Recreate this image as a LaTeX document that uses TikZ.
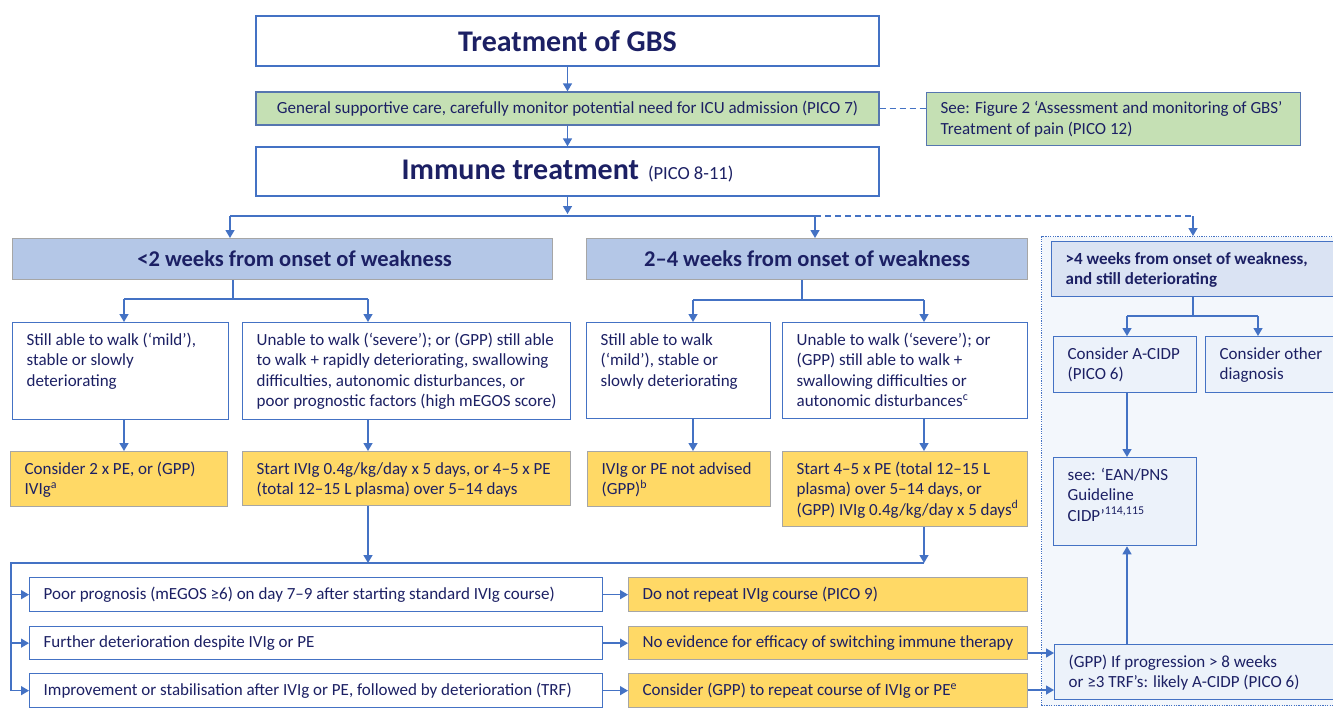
\documentclass[tikz,border=0pt]{standalone}
\usepackage{fontspec}
\setmainfont{Carlito}
\usetikzlibrary{arrows.meta}
\definecolor{navy}{RGB}{28,32,100}
\definecolor{bblue}{RGB}{68,114,196}
\definecolor{gfill}{RGB}{197,224,180}
\definecolor{hfill}{RGB}{180,199,231}
\definecolor{yfill}{RGB}{255,217,102}
\definecolor{gbord}{RGB}{166,166,166}
\definecolor{pbg}{RGB}{243,247,252}
\definecolor{pfill}{RGB}{236,242,250}
\definecolor{pfourfill}{RGB}{218,227,243}
\newcommand{\tb}[3]{\parbox[c][#1][t]{#2}{\raggedright\rule{0pt}{22.5pt}#3}}
\begin{document}
\begin{tikzpicture}[x=1pt,y=-1pt,
 base/.style={inner xsep=14pt, inner ysep=0pt, anchor=north west, font=\fontsize{17}{20.5}\selectfont, text=navy},
 wbox/.style={base, draw=bblue, line width=1.3pt, fill=white},
 ybox/.style={base, draw=gbord, line width=1.3pt, fill=yfill},
 hbox/.style={base, draw=gbord, line width=1.3pt, fill=hfill},
 gbox/.style={base, draw=bblue!70!gray, line width=1.3pt, fill=gfill},
 pbox/.style={base, draw=bblue, line width=1.3pt, fill=pfill},
 arr/.style={draw=bblue, line width=1.4pt, -{Triangle[width=9pt,length=8pt]}},
 ln/.style={draw=bblue, line width=1.4pt},
 dsh/.style={draw=bblue, line width=1.4pt, dash pattern=on 6pt off 4pt},
 big/.style={font=\fontsize{30}{34}\bfseries\selectfont},
 hdr/.style={font=\fontsize{22.5}{26}\bfseries\selectfont}]
\useasboundingbox (0,0) rectangle (1333,707);
\clip (0,0) rectangle (1333,707);
\fill[white] (0,0) rectangle (1333,707);

% right panel background
\node[draw=bblue, line width=1.2pt, dash pattern=on 1.2pt off 1.2pt, fill=pbg, anchor=north west, minimum width=320pt, minimum height=469pt, inner sep=0pt] (panel) at (1041,236) {};

% top
\node[wbox, big, anchor=center, minimum width=623pt, minimum height=50pt] (title) at (567.5,41) {Treatment of GBS};
\node[gbox, anchor=center, minimum width=623pt, minimum height=33pt] (care) at (567.5,108.5) {General supportive care, carefully monitor potential need for ICU admission (PICO 7)};
\node[gbox, minimum width=374pt] (side) at (926,92) {\parbox[c][53pt][t]{346pt}{\raggedright\rule{0pt}{21pt}See: Figure 2 ‘Assessment and monitoring of GBS’\\Treatment of pain (PICO 12)}};
\node[wbox, anchor=center, minimum width=623pt, minimum height=49pt] (imm) at (567.5,171.5) {{\fontsize{30}{34}\bfseries\selectfont Immune treatment}\hspace{9pt}{\fontsize{18.5}{20}\selectfont (PICO 8-11)}};

% headers
\node[hbox, hdr, minimum width=540pt, minimum height=41pt] (h1) at (12,238) {\hspace*{24pt}<2 weeks from onset of weakness};
\node[hbox, hdr, minimum width=441pt, minimum height=41pt] (h2) at (586,238) {2–4 weeks from onset of weakness};
\node[base, draw=bblue, line width=1.3pt, fill=pfourfill, minimum width=300pt] (h3) at (1051,241) {\parbox[c][55pt][t]{272pt}{\raggedright\fontsize{17}{20}\bfseries\selectfont\rule{0pt}{22.5pt}>4 weeks from onset of weakness,\\and still deteriorating}};

% condition boxes
\node[wbox] (s1) at (12,322) {\tb{97pt}{188pt}{Still able to walk (‘mild’),\\stable or slowly\\deteriorating}};
\node[wbox] (s2) at (242,322) {\tb{97pt}{300pt}{Unable to walk (‘severe’); or (GPP) still able\\to walk + rapidly deteriorating, swallowing\\difficulties, autonomic disturbances, or\\poor prognostic factors (high mEGOS score)}};
\node[wbox] (s3) at (586,322) {\tb{96pt}{156pt}{Still able to walk\\(‘mild’), stable or\\slowly deteriorating}};
\node[wbox] (s4) at (782,322) {\tb{96pt}{217pt}{Unable to walk (‘severe’); or\\(GPP) still able to walk +\\swallowing difficulties or\\autonomic disturbances\textsuperscript{c}}};

% treatment boxes
\node[ybox] (y1) at (10,451) {\tb{55pt}{189pt}{Consider 2 x PE, or (GPP)\\IVIg\textsuperscript{a}}};
\node[ybox] (y2) at (242,451) {\tb{54pt}{300pt}{Start IVIg 0.4g/kg/day x 5 days, or 4–5 x PE\\(total 12–15 L plasma) over 5–14 days}};
\node[ybox] (y3) at (587,451) {\tb{55pt}{155pt}{IVIg or PE not advised\\(GPP)\textsuperscript{b}}};
\node[ybox] (y4) at (782,451) {\tb{75pt}{217pt}{Start 4–5 x PE (total 12–15 L\\plasma) over 5–14 days, or\\\mbox{(GPP) IVIg 0.4g/kg/day x 5 days\textsuperscript{d}}}};

% rows
\node[wbox, minimum height=34pt] (r1) at (29,577) {\parbox{545pt}{Poor prognosis (mEGOS ≥6) on day 7–9 after starting standard IVIg course)}};
\node[wbox, minimum height=33pt] (r2) at (29,626) {\parbox{545pt}{Further deterioration despite IVIg or PE}};
\node[wbox, minimum height=34pt] (r3) at (29,673) {\parbox{545pt}{Improvement or stabilisation after IVIg or PE, followed by deterioration (TRF)}};
\node[ybox, minimum height=34pt] (q1) at (628,577) {\parbox{371pt}{Do not repeat IVIg course (PICO 9)}};
\node[ybox, minimum height=33pt] (q2) at (628,626) {\parbox{371pt}{No evidence for efficacy of switching immune therapy}};
\node[ybox, minimum height=34pt] (q3) at (628,673) {\parbox{371pt}{Consider (GPP) to repeat course of IVIg or PE\textsuperscript{e}}};

% right panel boxes
\node[pbox] (cA) at (1053,336) {\tb{56pt}{115pt}{Consider A-CIDP\\(PICO 6)}};
\node[pbox] (cO) at (1205,336) {\tb{56pt}{130pt}{Consider other\\diagnosis}};
\node[pbox] (ean) at (1053,457) {\tb{88pt}{115pt}{see: ‘EAN/PNS\\Guideline\\CIDP’\textsuperscript{114,115}}};
\node[pbox] (gpp) at (1054,644) {\tb{55pt}{272pt}{(GPP) If progression > 8 weeks\\or ≥3 TRF’s: likely A-CIDP (PICO 6)}};

% coordinates
\coordinate (sp) at (567.5,214);
\coordinate (sL) at (230,216);
\coordinate (sM) at (815,216);
\coordinate (sR) at (1193,216);
\coordinate (j1) at (233,299);
\coordinate (j1a) at (124,299);
\coordinate (j1b) at (368,299);
\coordinate (j2) at (802,300);
\coordinate (j2a) at (693,300);
\coordinate (j2b) at (924,300);
\coordinate (bL) at (11,563);
\coordinate (ga) at (1040,653);
\coordinate (gb) at (1040,690);
\coordinate (j3) at (1193,316);
\coordinate (j3a) at (1127,316);
\coordinate (j3b) at (1258,316);

% top connectors
\draw[arr] (title.south) -- (care.north);
\draw[dsh] (care.east) -- (care.east -| side.west);
\draw[arr] (care.south) -- (imm.north);
\draw[arr] (imm.south) -- (sp);
\draw[ln] (sL) -- (sM);
\draw[arr] (sL) -- (sL |- h1.north);
\draw[arr] (sM) -- (sM |- h2.north);
\draw[dsh] (sM) -- (sR);
\draw[arr] (sR) -- (sR |- panel.north);

% <2 weeks branch
\draw[ln] (j1 |- h1.south) -- (j1);
\draw[ln] (j1a) -- (j1b);
\draw[arr] (j1a) -- (j1a |- s1.north);
\draw[arr] (j1b) -- (j1b |- s2.north);
\draw[arr] (j1a |- s1.south) -- (j1a |- y1.north);
\draw[arr] (j1b |- s2.south) -- (j1b |- y2.north);

% 2-4 weeks branch
\draw[ln] (j2 |- h2.south) -- (j2);
\draw[ln] (j2a) -- (j2b);
\draw[arr] (j2a) -- (j2a |- s3.north);
\draw[arr] (j2b) -- (j2b |- s4.north);
\draw[arr] (j2a |- s3.south) -- (j2a |- y3.north);
\draw[arr] (j2b |- s4.south) -- (j2b |- y4.north);

% bottom
\draw[arr] (j1b |- y2.south) -- (j1b |- bL);
\draw[arr] (j2b |- y4.south) -- (j2b |- bL);
\draw[ln] (j2b |- bL) -- (bL) -- (bL |- r3.west);
\draw[arr] (bL |- r1.west) -- (r1.west);
\draw[arr] (bL |- r2.west) -- (r2.west);
\draw[arr] (bL |- r3.west) -- (r3.west);
\draw[arr] (r1.east) -- (q1.west);
\draw[arr] (r2.east) -- (q2.west);
\draw[arr] (r3.east) -- (q3.west);
\draw[arr] (q2.east |- ga) -- (gpp.west |- ga);
\draw[arr] (q3.east |- gb) -- (gpp.west |- gb);

% right panel
\draw[ln] (j3 |- h3.south) -- (j3);
\draw[ln] (j3a) -- (j3b);
\draw[arr] (j3a) -- (j3a |- cA.north);
\draw[arr] (j3b) -- (j3b |- cO.north);
\draw[arr] (j3a |- cA.south) -- (j3a |- ean.north);
\draw[arr] (j3a |- gpp.north) -- (j3a |- ean.south);
\end{tikzpicture}
\end{document}
